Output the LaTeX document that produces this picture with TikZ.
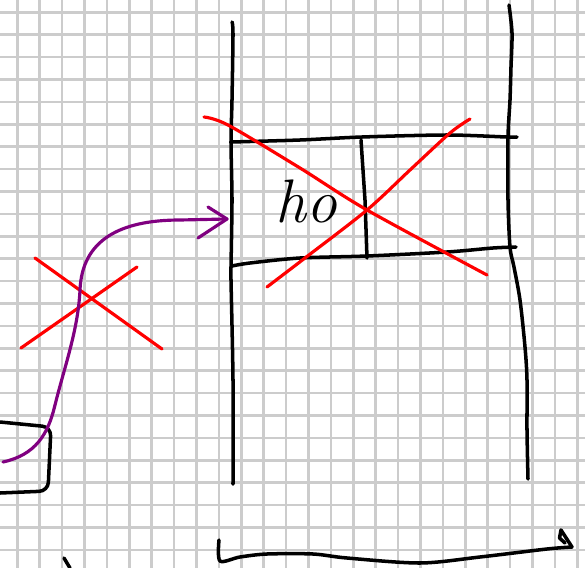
\documentclass[tikz,border=0pt]{standalone}
\usepackage{tikz}
\usetikzlibrary{arrows.meta,positioning,calc}
\usepackage{xcolor}
\definecolor{gridgray}{RGB}{204,204,204}
\definecolor{inkred}{RGB}{255,0,0}
\definecolor{inkpurple}{RGB}{128,0,128}

\begin{document}
\begin{tikzpicture}[x=0.02cm, y=-0.02cm,
    gridline/.style={gridgray, line width=1.4pt},
    pen/.style={black, line width=2pt, line cap=round, line join=round},
    redpen/.style={inkred, line width=1.8pt, line cap=round, line join=round},
    purplepen/.style={inkpurple, line width=1.8pt, line cap=round, line join=round}]
  \useasboundingbox (0,0) rectangle (585,568);
  \fill[white] (0,0) rectangle (585,568);
  \foreach \k in {0,...,25} {
    \draw[gridline] ({17.3+22.4*\k},0) -- ++(0,568);
  }
  \foreach \k in {0,...,24} {
    \draw[gridline] (0,{12.3+22.4*\k}) -- ++(585,0);
  }
  % the frame and its cell
  \draw[pen] plot[smooth] coordinates {(232,22) (233,34) (232,100) (231,142) (232,200) (231,267) (231,280) (233,380) (233,484)};
  \draw[pen] plot[smooth] coordinates {(509,5) (512,33) (511,67) (510,100) (508,137) (508,200) (510,247) (514,267) (520,300) (525,347) (527,380) (527,430) (528,479)};
  \draw[pen] plot[smooth] coordinates {(231,142) (300,140) (362,137) (447,135) (507,137) (517,137)};
  \draw[pen] plot[smooth] coordinates {(232,266) (250,263) (300,258) (367,256) (447,252) (493,248) (516,247)};
  \draw[pen] (361,140) -- (365,200) -- (367,258);
  \node[font=\fontsize{35}{35}\selectfont\itshape, anchor=base west, inner sep=0pt] (ho) at (275,222) {ho};
  \draw[pen, rounded corners=5pt] (0,422) -- (51,427) -- (48,491) -- (0,493);
  \draw[pen] plot[smooth] coordinates {(219,540) (220,561) (240,557) (267,554) (313,554) (347,558) (420,563) (480,557) (547,549) (572,547)};
  \draw[pen] (572,547) -- (561,530) -- (559.5,538) -- (565,543);
  \draw[pen] (64,558) -- (70,568);
  % crosses
  \draw[redpen] plot[smooth] coordinates {(204,117) (228,125) (300,168) (367,210) (487,275)};
  \draw[redpen] plot[smooth] coordinates {(470,119) (450,133) (410,170) (367,210) (305,258) (267,287)};
  \draw[redpen] (35,258) -- (162,349);
  \draw[redpen] (137,267) -- (21,348);
  % arrow into the frame
  \coordinate (src) at (3,462);
  \coordinate (dst) at (227,219);
  \draw[purplepen] (src) .. controls (35,455) and (48,435) .. (55,405)
    .. controls (65,365) and (78,330) .. (80,290)
    .. controls (82,240) and (120,220) .. (180,220) -- (dst);
  \draw[purplepen] (208,207) -- (dst) -- (198,238);
\end{tikzpicture}
\end{document}
